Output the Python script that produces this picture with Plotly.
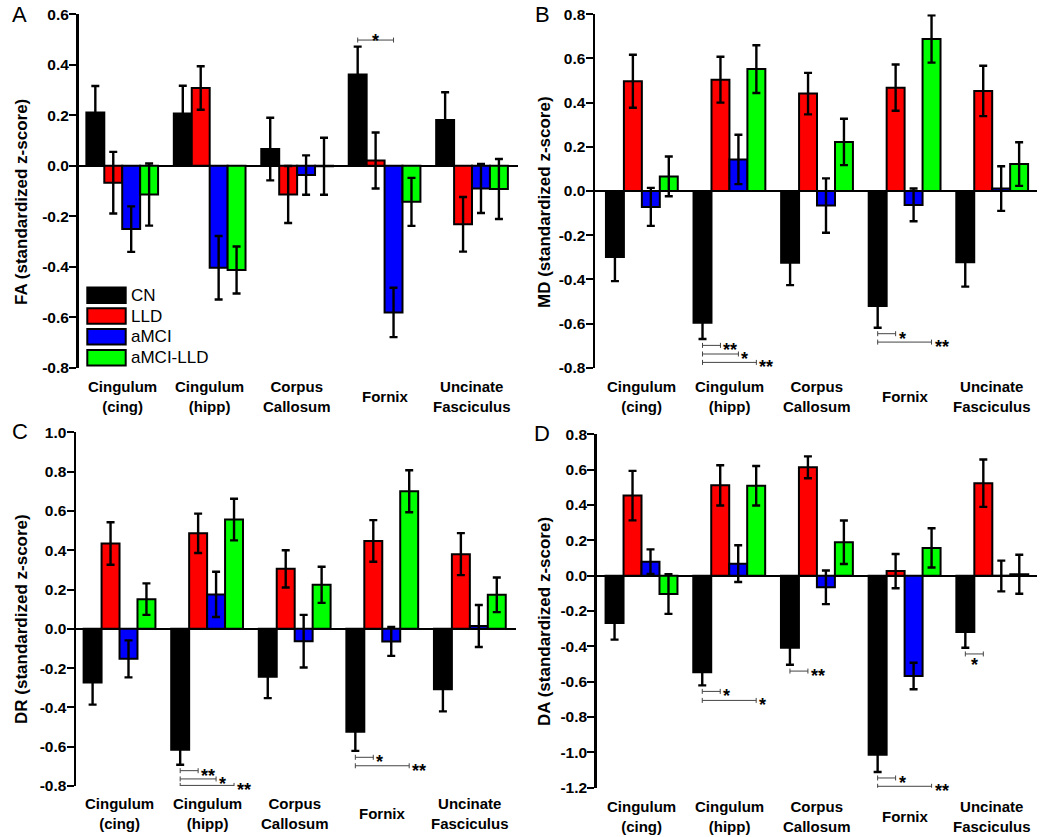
import plotly.graph_objects as go

# ---------------- data ----------------
categories = ["Cingulum<br>(cing)", "Cingulum<br>(hipp)", "Corpus<br>Callosum", "Fornix", "Uncinate<br>Fasciculus"]
groups = ["CN", "LLD", "aMCI", "aMCI-LLD"]
colors = ["#000000", "#FF0000", "#0000FF", "#00FF00"]

fa_cn = [0.211, 0.207, 0.066, 0.362, 0.181]
fa_cn_err = [0.105, 0.110, 0.124, 0.110, 0.110]
fa_lld = [-0.067, 0.308, -0.114, 0.021, -0.232]
fa_lld_err = [0.122, 0.086, 0.113, 0.111, 0.108]
fa_amci = [-0.251, -0.404, -0.037, -0.581, -0.090]
fa_amci_err = [0.090, 0.126, 0.078, 0.098, 0.097]
fa_amcilld = [-0.114, -0.413, -0.002, -0.143, -0.092]
fa_amcilld_err = [0.123, 0.093, 0.113, 0.095, 0.119]

md_cn = [-0.299, -0.596, -0.325, -0.521, -0.323]
md_cn_err = [0.109, 0.074, 0.101, 0.098, 0.110]
md_lld = [0.497, 0.504, 0.441, 0.468, 0.453]
md_lld_err = [0.120, 0.104, 0.094, 0.105, 0.114]
md_amci = [-0.072, 0.143, -0.066, -0.063, 0.011]
md_amci_err = [0.086, 0.112, 0.123, 0.074, 0.101]
md_amcilld = [0.066, 0.552, 0.222, 0.688, 0.122]
md_amcilld_err = [0.090, 0.108, 0.105, 0.107, 0.099]

dr_cn = [-0.273, -0.615, -0.244, -0.524, -0.308]
dr_cn_err = [0.113, 0.077, 0.109, 0.097, 0.112]
dr_lld = [0.434, 0.486, 0.305, 0.447, 0.380]
dr_lld_err = [0.108, 0.100, 0.095, 0.106, 0.107]
dr_amci = [-0.153, 0.175, -0.063, -0.064, 0.014]
dr_amci_err = [0.094, 0.115, 0.134, 0.074, 0.107]
dr_amcilld = [0.151, 0.556, 0.224, 0.700, 0.173]
dr_amcilld_err = [0.080, 0.106, 0.092, 0.107, 0.088]

da_cn = [-0.268, -0.547, -0.408, -1.013, -0.319]
da_cn_err = [0.094, 0.074, 0.096, 0.098, 0.089]
da_lld = [0.453, 0.511, 0.613, 0.026, 0.523]
da_lld_err = [0.140, 0.114, 0.062, 0.097, 0.134]
da_amci = [0.079, 0.068, -0.066, -0.568, -0.002]
da_amci_err = [0.070, 0.104, 0.095, 0.075, 0.087]
da_amcilld = [-0.104, 0.509, 0.189, 0.157, 0.008]
da_amcilld_err = [0.112, 0.112, 0.123, 0.111, 0.110]

fa_ticks = [-0.8, -0.6, -0.4, -0.2, 0.0, 0.2, 0.4, 0.6]
md_ticks = [-0.8, -0.6, -0.4, -0.2, 0.0, 0.2, 0.4, 0.6, 0.8]
dr_ticks = [-0.8, -0.6, -0.4, -0.2, 0.0, 0.2, 0.4, 0.6, 0.8, 1.0]
da_ticks = [-1.2, -1.0, -0.8, -0.6, -0.4, -0.2, 0.0, 0.2, 0.4, 0.6, 0.8]

# significance brackets: (category index, from group, to group, y value, label, label side)
fa_sig = [(3, 0, 2, 0.498, "*", "above")]
md_sig = [(1, 0, 1, -0.699, "**", "right"), (1, 0, 2, -0.738, "*", "right"), (1, 0, 3, -0.776, "**", "right"),
          (3, 0, 1, -0.646, "*", "right"), (3, 0, 3, -0.684, "**", "right")]
dr_sig = [(1, 0, 1, -0.722, "**", "right"), (1, 0, 2, -0.764, "*", "right"), (1, 0, 3, -0.797, "**", "right"),
          (3, 0, 1, -0.654, "*", "right"), (3, 0, 3, -0.697, "**", "right")]
da_sig = [(1, 0, 1, -0.655, "*", "right"), (1, 0, 3, -0.706, "*", "right"), (2, 0, 1, -0.540, "**", "right"),
          (3, 0, 1, -1.145, "*", "right"), (3, 0, 3, -1.192, "**", "right"), (4, 0, 1, -0.443, "*", "below")]

# ---------------- layout ----------------
W, H = 1050, 837
OFF = 0  # body margin removed by post_script, figure origin at page (0, 0)
FONT = "Liberation Sans, Arial, sans-serif"
BARGAP = 0.18


def fx(px):
    return (px - OFF) / W


def fy(py):
    return 1 - (py - OFF) / H


panels = [
    dict(sfx="", letter="A", title="FA (standardized z-score)",
         vals=[fa_cn, fa_lld, fa_amci, fa_amcilld], errs=[fa_cn_err, fa_lld_err, fa_amci_err, fa_amcilld_err],
         ticks=fa_ticks, sig=fa_sig, xpx=(78.5, 517.5), ypx=(14.3, 367.7), xr=(-0.5, 4.52),
         letter_pos=(19, 15), title_pos=(21, 202), lab_y=396),
    dict(sfx="2", letter="B", title="MD (standardized z-score)",
         vals=[md_cn, md_lld, md_amci, md_amcilld], errs=[md_cn_err, md_lld_err, md_amci_err, md_amcilld_err],
         ticks=md_ticks, sig=md_sig, xpx=(595, 1037.3), ypx=(14.3, 367.7), xr=(-0.535, 4.515),
         letter_pos=(542, 15), title_pos=(544, 202), lab_y=396),
    dict(sfx="3", letter="C", title="DR (standardized z-score)",
         vals=[dr_cn, dr_lld, dr_amci, dr_amcilld], errs=[dr_cn_err, dr_lld_err, dr_amci_err, dr_amcilld_err],
         ticks=dr_ticks, sig=dr_sig, xpx=(76, 516), ypx=(432.3, 786), xr=(-0.497, 4.527),
         letter_pos=(20, 431), title_pos=(21, 619), lab_y=813.5),
    dict(sfx="4", letter="D", title="DA (standardized z-score)",
         vals=[da_cn, da_lld, da_amci, da_amcilld], errs=[da_cn_err, da_lld_err, da_amci_err, da_amcilld_err],
         ticks=da_ticks, sig=da_sig, xpx=(596.7, 1037.3), ypx=(434.3, 787.7), xr=(-0.511, 4.513),
         letter_pos=(542, 433), title_pos=(544, 622), lab_y=816),
]

fig = go.Figure()
layout = dict(width=W, height=H, margin=dict(l=0, r=0, t=0, b=0),
              paper_bgcolor="white", plot_bgcolor="white",
              barmode="group", bargap=BARGAP, bargroupgap=0, showlegend=False,
              font=dict(family=FONT, color="black"))
shapes = []
annotations = []

cat_x = list(range(len(categories)))
bw = (1 - BARGAP) / len(groups)


def bar_offset(i):
    return -(1 - BARGAP) / 2 + (i + 0.5) * bw


STAR_FONT = dict(family=FONT, size=18, color="black", weight="bold")

for p in panels:
    xa = "x" + p["sfx"]
    ya = "y" + p["sfx"]
    for g, name in enumerate(groups):
        fig.add_trace(go.Bar(
            x=cat_x, y=p["vals"][g], name=name, xaxis=xa, yaxis=ya,
            marker=dict(color=colors[g], line=dict(color="black", width=2)),
            error_y=dict(type="data", array=p["errs"][g], symmetric=True,
                         color="black", thickness=2.4, width=4),
            showlegend=False, hoverinfo="skip"))
    layout["xaxis" + p["sfx"]] = dict(
        domain=[fx(p["xpx"][0]), fx(p["xpx"][1])], range=list(p["xr"]), anchor=ya,
        showline=False, showgrid=False, zeroline=False, showticklabels=False, ticks="",
        fixedrange=True)
    layout["yaxis" + p["sfx"]] = dict(
        domain=[fy(p["ypx"][1]), fy(p["ypx"][0])], range=[p["ticks"][0], p["ticks"][-1]], anchor=xa,
        showline=True, linecolor="black", linewidth=2.5, showgrid=False,
        zeroline=True, zerolinecolor="black", zerolinewidth=2,
        ticks="outside", ticklen=7, tickwidth=2, tickcolor="black",
        tickvals=p["ticks"], ticktext=["%.1f" % v for v in p["ticks"]],
        tickfont=dict(family=FONT, size=15.5, color="black", weight="bold"),
        ticklabelstandoff=-3,
        automargin=False, fixedrange=True)

    # panel letter
    annotations.append(dict(text=p["letter"], xref="paper", yref="paper",
                            x=fx(p["letter_pos"][0]), y=fy(p["letter_pos"][1]),
                            xanchor="center", yanchor="middle", showarrow=False,
                            font=dict(family=FONT, size=22, color="black")))
    # y title
    annotations.append(dict(text=p["title"], xref="paper", yref="paper",
                            x=fx(p["title_pos"][0]), y=fy(p["title_pos"][1]),
                            xanchor="center", yanchor="middle", textangle=-90, showarrow=False,
                            font=dict(family=FONT, size=17, color="black", weight="bold")))
    # category labels
    for i, c in enumerate(categories):
        annotations.append(dict(text=c, xref=xa, yref="paper", x=cat_x[i], y=fy(p["lab_y"]),
                                xanchor="center", yanchor="middle", showarrow=False, align="center",
                                font=dict(family=FONT, size=15, color="black", weight="bold")))
    # significance brackets
    for (ci, g0, g1, yv, lab, side) in p["sig"]:
        x0 = cat_x[ci] + bar_offset(g0)
        x1 = cat_x[ci] + bar_offset(g1)
        shapes.append(dict(type="line", xref=xa, yref=ya, x0=x0, x1=x1, y0=yv, y1=yv,
                           line=dict(color="#444444", width=1)))
        for xx in (x0, x1):
            shapes.append(dict(type="line", xref=xa, yref=ya, xsizemode="scaled",
                               ysizemode="pixel", yanchor=yv, x0=xx, x1=xx, y0=-2.5, y1=2.5,
                               line=dict(color="#444444", width=1)))
        if side == "right":
            annotations.append(dict(text=lab, xref=xa, yref=ya, x=x1, y=yv, xanchor="left",
                                    yanchor="middle", xshift=1, yshift=-5, showarrow=False,
                                    font=STAR_FONT))
        elif side == "above":
            annotations.append(dict(text=lab, xref=xa, yref=ya, x=(x0 + x1) / 2, y=yv, xanchor="center",
                                    yanchor="middle", yshift=-1, showarrow=False, font=STAR_FONT))
        else:
            annotations.append(dict(text=lab, xref=xa, yref=ya, x=(x0 + x1) / 2, y=yv, xanchor="center",
                                    yanchor="middle", yshift=-11, showarrow=False, font=STAR_FONT))

# legend in panel A (drawn manually)
leg_top0, leg_step, leg_h = 287.5, 20.8, 15.5
for g, name in enumerate(groups):
    top = leg_top0 + g * leg_step
    shapes.append(dict(type="rect", xref="paper", yref="paper",
                       x0=fx(87.3), x1=fx(125.7), y0=fy(top + leg_h), y1=fy(top),
                       fillcolor=colors[g], line=dict(color="black", width=2)))
    annotations.append(dict(text=name, xref="paper", yref="paper", x=fx(129), y=fy(top + leg_h / 2),
                            xanchor="left", yanchor="middle", showarrow=False,
                            font=dict(family=FONT, size=17, color="black")))

layout["shapes"] = shapes
layout["annotations"] = annotations
fig.update_layout(**layout)
fig.write_html("out.html", config={"displayModeBar": False, "staticPlot": True},
               post_script="document.body.style.margin='0';document.body.style.overflow='hidden';")
